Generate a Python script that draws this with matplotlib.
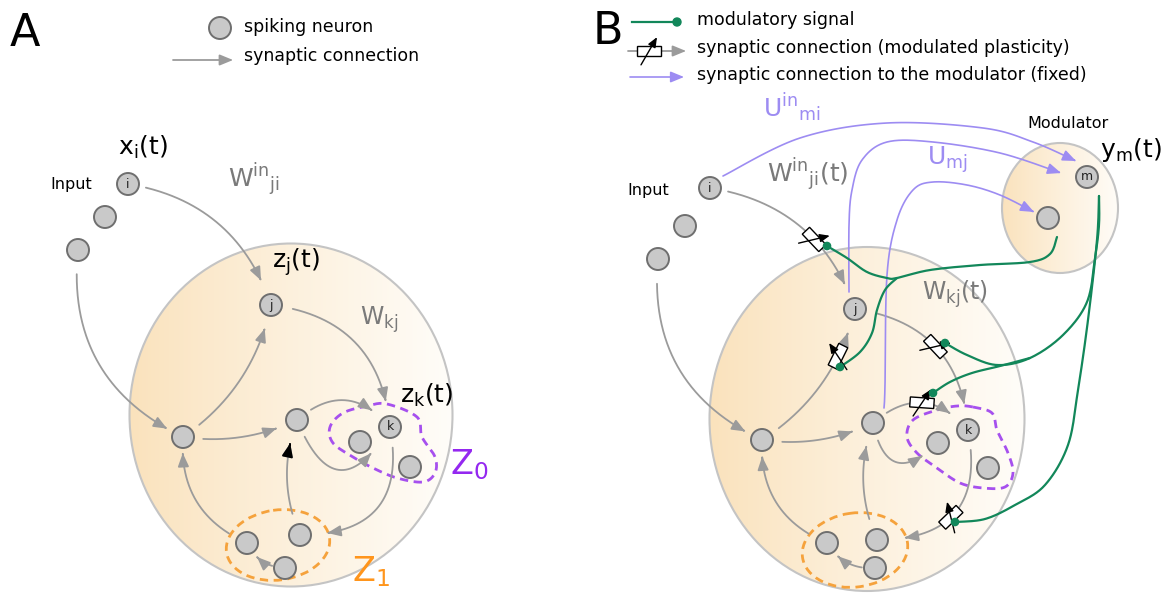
import numpy as np
import matplotlib
matplotlib.use("Agg")
import matplotlib.pyplot as plt
from matplotlib.patches import Circle, Ellipse, Polygon, FancyArrowPatch, ArrowStyle
from matplotlib.path import Path

plt.rcParams["font.family"] = ["DejaVu Sans"]
plt.rcParams["mathtext.fontset"] = "dejavusans"

GRAY = "#9b9b9b"
NEURON_FILL = "#c9c9c9"
NEURON_EDGE = "#6f6f6f"
GREEN = "#12875a"
LAVENDER = "#9d8cf2"
PURPLE = "#a650ee"
PURPLE_TXT = "#9428f0"
ORANGE = "#f5a23c"
ORANGE_TXT = "#ff951c"

# neurons, pixel positions (y grows downwards)
neuron_names = ["i", "in2", "in3", "j", "left", "mid", "k", "z0a", "z0b", "z1a", "z1b", "z1c"]
neuron_tags = ["i", "", "", "j", "", "", "k", "", "", "", "", ""]
neuron_x_a = [128, 105, 78, 271, 183, 297, 390, 360, 410, 247, 300, 285]
neuron_y_a = [184, 217, 250, 305, 437, 420, 427, 442, 467, 543, 535, 568]
neuron_x_b = [710, 685, 658, 855, 762, 873, 968, 938, 988, 827, 877, 875]
neuron_y_b = [188, 226, 259, 309, 440, 423, 430, 443, 468, 543, 540, 568]
mod_tags = ["m", ""]
mod_x = [1087, 1048]
mod_y = [177, 218]

# synapses: source, target, bend, gap at start / end
syn_src = ["i", "in3", "left", "left", "j", "mid", "mid", "k", "z1b", "z1a", "z1c"]
syn_dst_a = ["j", "left", "j", "mid", "k", "k", "k", "z1b", "mid", "left", "z1a"]
syn_dst_b = ["j", "left", "j", "mid", "k", "k", "z0a", "z1b", "mid", "left", "z1a"]
syn_bend_a = [-0.3, 0.35, 0.2, 0.15, -0.4, -0.5, 1.0, -0.6, -0.2, -0.35, -0.3]
syn_bend_b = [-0.3, 0.35, 0.2, 0.15, -0.4, -0.5, 0.9, -0.6, -0.2, -0.35, -0.3]
syn_gap0 = [18, 24, 20, 20, 22, 17, 18, 20, 22, 20, 13]
syn_gap1_a = [26, 18, 24, 22, 26, 24, 32, 27, 24, 16, 17]
syn_gap1_b = [26, 18, 24, 22, 26, 24, 20, 27, 24, 16, 17]

# plastic synapses in B (synapse index, position along curve)
plastic_idx = [0, 2, 4, 5, 7]
plastic_t = [0.6, 0.7, 0.5, 0.5, 0.55]

# populations: cx, cy, width, height
pop_a = (291, 415, 323, 343)
pop_b = (867, 419, 315, 344)
pop_mod = (1060, 208, 116, 130)

# dashed groups
z0_blob_a = [(387, 404), (417, 417), (422, 437), (435, 457), (435, 473), (423, 482), (397, 478),
             (373, 468), (353, 457), (333, 443), (330, 427), (343, 413), (367, 406)]
z0_blob_b = [(973, 407), (992, 413), (997, 430), (1008, 453), (1013, 473), (1005, 487), (983, 488),
             (960, 483), (937, 468), (917, 453), (907, 437), (913, 420), (937, 410), (957, 406)]
z1_ell_a = (278, 545, 104, 70, -8)
z1_ell_b = (855, 550, 106, 74, -8)

# modulator pathways (waypoints)
purple_paths = [
    [(723, 176), (800, 138), (887, 123), (983, 128), (1033, 142), (1076, 161)],
    [(849, 292), (849, 225), (852, 190), (862, 160), (887, 142), (933, 142), (1000, 153), (1061, 173)],
    [(884, 408), (885, 385), (887, 275), (897, 220), (913, 190), (933, 182), (967, 185), (1000, 195), (1034, 212)],
]
green_paths = [
    [(1057, 237), (1050, 254), (1030, 262), (980, 265), (930, 270), (897, 278), (887, 278),
     (867, 272), (847, 258), (827, 246)],
    [(897, 278), (885, 290), (877, 310), (872, 333), (860, 352), (840, 367)],
    [(1099, 196), (1099, 225), (1095, 258), (1087, 302), (1063, 335), (1030, 358), (997, 365),
     (967, 355), (945, 343)],
    [(1030, 358), (1000, 366), (972, 373), (950, 382), (933, 393)],
    [(1099, 196), (1097, 240), (1088, 320), (1078, 390), (1068, 445), (1045, 485), (1015, 505),
     (985, 519), (955, 522)],
]


def quad(p0, p1, bend, n=200):
    p0, p1 = np.asarray(p0, float), np.asarray(p1, float)
    d = p1 - p0
    c = (p0 + p1) / 2 + bend * np.array([-d[1], d[0]])
    t = np.linspace(0, 1, n)[:, None]
    return (1 - t) ** 2 * p0 + 2 * (1 - t) * t * c + t ** 2 * p1


def trim(pts, g0, g1):
    d0 = np.hypot(*(pts - pts[0]).T)
    d1 = np.hypot(*(pts - pts[-1]).T)
    return pts[(d0 >= g0) & (d1 >= g1)]


def smooth(pts, closed=False, n=20):
    # Catmull-Rom through the waypoints
    P = np.array(pts, float)
    if closed:
        P = np.vstack([P[-1], P, P[0], P[1]])
    else:
        P = np.vstack([P[0], P, P[-1]])
    out = []
    t = np.linspace(0, 1, n, endpoint=False)[:, None]
    for i in range(1, len(P) - 2):
        p0, p1, p2, p3 = P[i - 1], P[i], P[i + 1], P[i + 2]
        out.append(0.5 * (2 * p1 + (-p0 + p2) * t + (2 * p0 - 5 * p1 + 4 * p2 - p3) * t ** 2
                          + (-p0 + 3 * p1 - 3 * p2 + p3) * t ** 3))
    out.append(P[-2][None])
    return np.vstack(out)


def arrow(ax, pts, color, lw=1.3, z=4, head=(0.8, 0.33)):
    style = ArrowStyle("-|>", head_length=head[0], head_width=head[1])
    ax.add_patch(FancyArrowPatch(path=Path(np.asarray(pts)), arrowstyle=style, mutation_scale=10,
                                 color=color, lw=lw, zorder=z))


def gradient_ellipse(ax, cx, cy, w, h, c_left, c_right):
    e = Ellipse((cx, cy), w, h, facecolor="none", edgecolor="#c4c4c4", lw=1.5, zorder=2)
    ax.add_patch(e)
    g = np.linspace(0, 1, 256)[:, None] ** 0.9
    cols = np.array(c_left) / 255 + (np.array(c_right) - np.array(c_left)) / 255 * g
    im = ax.imshow(cols[None], extent=(cx - w / 2, cx + w / 2, cy + h / 2, cy - h / 2),
                   aspect="auto", zorder=1, interpolation="bilinear")
    im.set_clip_path(e)


def neuron(ax, x, y, tag="", r=11):
    ax.add_patch(Circle((x, y), r, facecolor=NEURON_FILL, edgecolor=NEURON_EDGE, lw=1.4, zorder=9))
    if tag:
        ax.text(x, y, tag, ha="center", va="center", fontsize=9, color="#222222", zorder=10)


def resistor(ax, c, direction):
    c = np.asarray(c, float)
    u = np.asarray(direction, float)
    u = u / np.linalg.norm(u)
    v = np.array([-u[1], u[0]])
    L, Wd = 12, 5
    corners = [c + L * u + Wd * v, c - L * u + Wd * v, c - L * u - Wd * v, c + L * u - Wd * v]
    ax.add_patch(Polygon(corners, closed=True, fc="white", ec="black", lw=1.0, zorder=7))
    a = np.array([0.5 * u[0] + 0.866 * u[1], -0.866 * u[0] + 0.5 * u[1]])
    if a[1] > 0:
        a = -a
    arrow(ax, [c - 16 * a, c + 16 * a], "black", lw=1.0, z=8, head=(0.6, 0.25))


def network(ax, xs, ys, dsts, bends, gap1s, black_head=False):
    pos = {n: (x, y) for n, x, y in zip(neuron_names, xs, ys)}
    curves = []
    for k, (s, d, b, g0, g1) in enumerate(zip(syn_src, dsts, bends, syn_gap0, gap1s)):
        full = quad(pos[s], pos[d], b)
        pts = trim(full, g0, g1)
        arrow(ax, pts, GRAY)
        if black_head and k == 8:
            arrow(ax, pts[-6:], "black")
        curves.append(full)
    for n, tag in zip(neuron_names, neuron_tags):
        neuron(ax, *pos[n], tag)
    return curves


fig = plt.figure(figsize=(11.73, 5.94), dpi=100)
ax = fig.add_axes([0, 0, 1, 1])

# populations
gradient_ellipse(ax, *pop_a, (250, 226, 188), (255, 253, 249))
gradient_ellipse(ax, *pop_b, (250, 226, 188), (255, 253, 249))
gradient_ellipse(ax, *pop_mod, (250, 226, 188), (255, 252, 247))

# dashed groups
for blob in (z0_blob_a, z0_blob_b):
    s = smooth(blob, closed=True)
    ax.plot(s[:, 0], s[:, 1], color=PURPLE, lw=2.0, ls=(0, (3, 2)), zorder=3)
for cx, cy, w, h, ang in (z1_ell_a, z1_ell_b):
    ax.add_patch(Ellipse((cx, cy), w, h, angle=ang, fill=False, ec=ORANGE, lw=2.0,
                         ls=(0, (3, 2)), zorder=3))

# networks
network(ax, neuron_x_a, neuron_y_a, syn_dst_a, syn_bend_a, syn_gap1_a, black_head=True)
curves_b = network(ax, neuron_x_b, neuron_y_b, syn_dst_b, syn_bend_b, syn_gap1_b)
for x, y, tag in zip(mod_x, mod_y, mod_tags):
    neuron(ax, x, y, tag)

# fixed connections to the modulator
for p in purple_paths:
    arrow(ax, smooth(p), LAVENDER, lw=1.2, z=5)

# modulatory signals
for p in green_paths:
    s = smooth(p)
    ax.plot(s[:, 0], s[:, 1], color=GREEN, lw=1.6, zorder=6, solid_capstyle="round")
    ax.add_patch(Circle(p[-1], 3.6, color=GREEN, zorder=9))

# plastic synapses
for idx, t in zip(plastic_idx, plastic_t):
    full = curves_b[idx]
    m = int(t * (len(full) - 1))
    resistor(ax, full[m], full[m + 1] - full[m - 1])

# legend A
ax.text(10, 33, "A", fontsize=32, va="center", ha="left")
neuron(ax, 220, 28)
arrow(ax, [(173, 60), (233, 60)], GRAY)
ax.text(244, 27, "spiking neuron", fontsize=12.5, va="center")
ax.text(244, 56, "synaptic connection", fontsize=12.5, va="center")

# legend B
ax.text(593, 31, "B", fontsize=32, va="center", ha="left")
ax.plot([632, 676], [22, 22], color=GREEN, lw=1.6, zorder=6)
ax.add_patch(Circle((677, 22), 4, color=GREEN, zorder=9))
arrow(ax, [(628, 51), (686, 51)], GRAY)
resistor(ax, (649, 51), (1, 0))
arrow(ax, [(630, 77), (684, 77)], LAVENDER, lw=1.2)
ax.text(697, 20, "modulatory signal", fontsize=12.5, va="center")
ax.text(697, 48, "synaptic connection (modulated plasticity)", fontsize=12.5, va="center")
ax.text(697, 75, "synaptic connection to the modulator (fixed)", fontsize=12.5, va="center")

# labels A
ax.text(50, 184, "Input", fontsize=11.5, va="center")
ax.text(118, 147, r"$\mathregular{x_i(t)}$", fontsize=18, va="center")
ax.text(228, 180, r"$\mathregular{W^{in}{}_{ji}}$", fontsize=18, va="center", color="#7a7a7a")
ax.text(272, 262, r"$\mathregular{z_j(t)}$", fontsize=18, va="center")
ax.text(360, 320, r"$\mathregular{W_{kj}}$", fontsize=17, va="center", color="#7a7a7a")
ax.text(400, 395, r"$\mathregular{z_k(t)}$", fontsize=18, va="center")
ax.text(450, 465, r"$\mathregular{Z_0}$", fontsize=24, va="center", color=PURPLE_TXT)
ax.text(352, 572, r"$\mathregular{Z_1}$", fontsize=24, va="center", color=ORANGE_TXT)

# labels B
ax.text(627, 190, "Input", fontsize=11.5, va="center")
ax.text(767, 175, r"$\mathregular{W^{in}{}_{ji}(t)}$", fontsize=18, va="center", color="#7a7a7a")
ax.text(763, 108, r"$\mathregular{U^{in}{}_{mi}}$", fontsize=18, va="center", color=LAVENDER)
ax.text(927, 160, r"$\mathregular{U_{mj}}$", fontsize=18, va="center", color=LAVENDER)
ax.text(1027, 123, "Modulator", fontsize=11.5, va="center")
ax.text(1100, 150, r"$\mathregular{y_m(t)}$", fontsize=18, va="center")
ax.text(922, 294, r"$\mathregular{W_{kj}(t)}$", fontsize=17, va="center", color="#7a7a7a")

ax.set_xlim(0, 1173)
ax.set_ylim(594, 0)
ax.axis("off")
fig.savefig("out.png", dpi=100)
